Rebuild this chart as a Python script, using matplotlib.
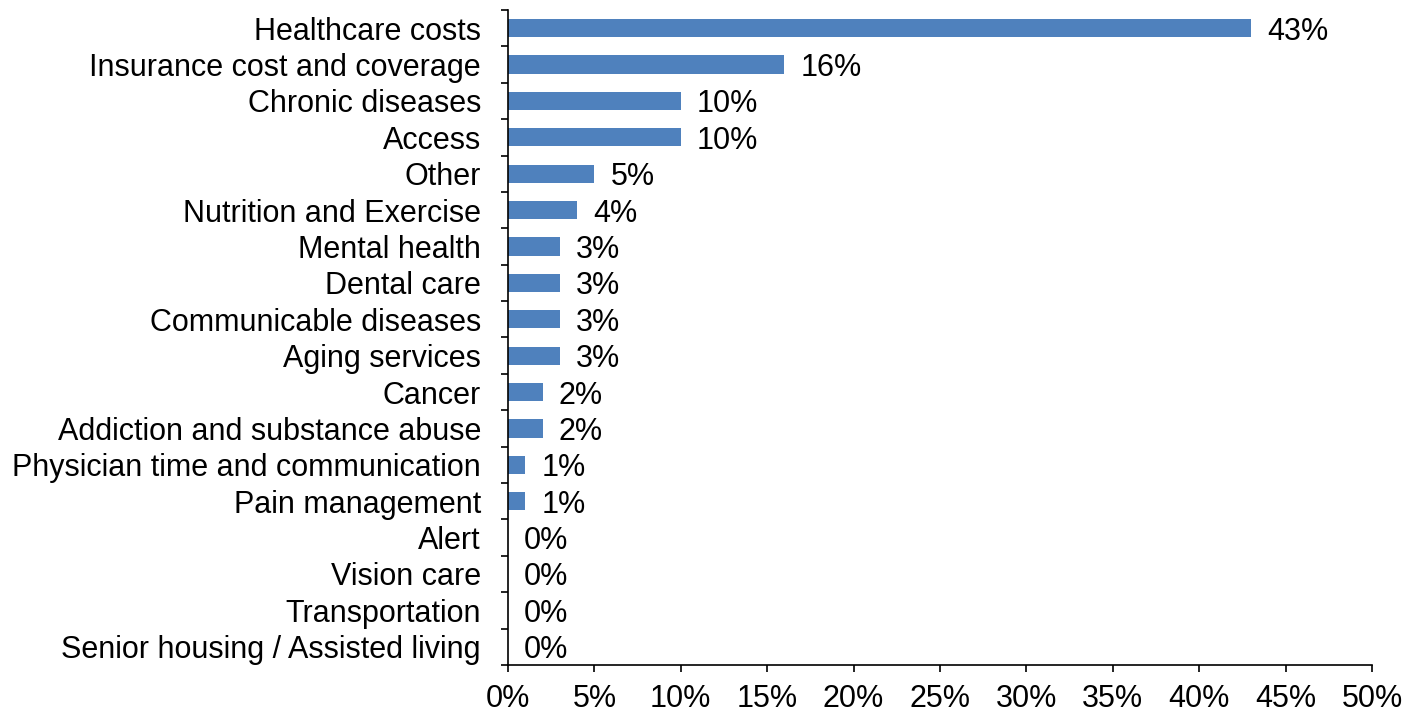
import numpy as np
import matplotlib
matplotlib.use("Agg")
import matplotlib.pyplot as plt
from matplotlib.ticker import FuncFormatter, FixedLocator

categories = ["Healthcare costs", "Insurance cost and coverage", "Chronic diseases", "Access",
              "Other", "Nutrition and Exercise", "Mental health", "Dental care",
              "Communicable diseases", "Aging services", "Cancer", "Addiction and substance abuse",
              "Physician time and communication", "Pain management", "Alert", "Vision care",
              "Transportation", "Senior housing / Assisted living"]
values = [43, 16, 10, 10, 5, 4, 3, 3, 3, 3, 2, 2, 1, 1, 0, 0, 0, 0]
xticks = [0, 5, 10, 15, 20, 25, 30, 35, 40, 45, 50]

plt.rcParams["font.family"] = ["Liberation Sans", "DejaVu Sans"]

fig = plt.figure(figsize=(14.21, 7.15), dpi=100)
ax = fig.add_axes([0.3575, 0.070, 0.608, 0.916])

n = len(categories)
pos = np.arange(n)[::-1]
ax.barh(pos, values, height=0.5, color="#4F81BD")

# value labels right of the bars
for p, v in zip(pos, values):
    ax.annotate(f"{v}%", (v, p), xytext=(11.5, -2.5), textcoords="offset points",
                ha="left", va="center", fontsize=22)

ax.set_xlim(0, 50)
ax.set_ylim(-0.5, n - 0.5)
ax.set_xticks(xticks)
ax.xaxis.set_major_formatter(FuncFormatter(lambda x, _: f"{x:.0f}%"))
ax.set_yticks(pos)
ax.set_yticklabels(categories)
ax.yaxis.set_minor_locator(FixedLocator(np.arange(n + 1) - 0.5))

ax.tick_params(axis="y", which="major", length=0, pad=19.5, labelsize=22)
ax.tick_params(axis="y", which="minor", length=5, width=1.2, direction="out")
ax.tick_params(axis="x", which="major", length=5, width=1.2, direction="out", pad=9, labelsize=22)

for s in ["top", "right"]:
    ax.spines[s].set_visible(False)
for s in ["left", "bottom"]:
    ax.spines[s].set_linewidth(1.2)

fig.savefig("out.png", dpi=100)
